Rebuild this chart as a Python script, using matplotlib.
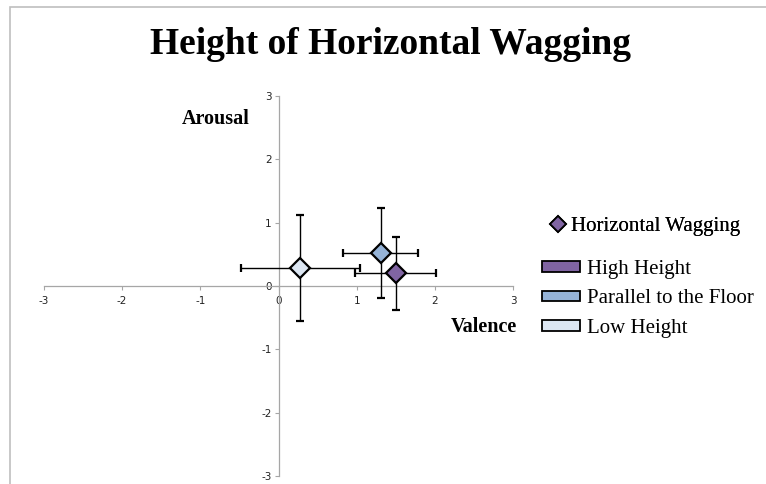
import matplotlib
matplotlib.use("Agg")
import matplotlib.pyplot as plt
from matplotlib.patches import Rectangle
from matplotlib.lines import Line2D

categories = ["High Height", "Parallel to the Floor", "Low Height"]
valence = [1.50, 1.31, 0.28]
arousal = [0.20, 0.52, 0.28]
valence_err = [0.52, 0.48, 0.76]
arousal_err = [0.58, 0.71, 0.84]
colors = ["#8064A2", "#95B3D7", "#DCE6F2"]
ticks = [-3, -2, -1, 0, 1, 2, 3]

fig = plt.figure(figsize=(7.66, 4.84), dpi=100)
fig.patches.append(Rectangle((9.5/766, -0.1), 1.2, 1.1 - 6.5/484, transform=fig.transFigure,
                             fill=False, edgecolor="#BFBFBF", linewidth=1.2))
ax = fig.add_axes([44/766, 8/484, 469/766, 380/484])
ax.set_xlim(-3, 3)
ax.set_ylim(-3, 3)

for s in ["top", "right"]:
    ax.spines[s].set_visible(False)
for s in ["left", "bottom"]:
    ax.spines[s].set_position(("data", 0))
    ax.spines[s].set_color("#A6A6A6")
    ax.spines[s].set_linewidth(0.9)

ax.set_xticks(ticks)
ax.set_yticks(ticks)
ax.set_xticklabels([str(t) for t in ticks])
ax.set_yticklabels([str(t) for t in ticks])
ax.tick_params(axis="both", direction="out", length=3, width=0.8, color="#A6A6A6",
               labelsize=7.5, labelcolor="#222222")
ax.tick_params(axis="x", pad=4)
ax.tick_params(axis="y", pad=2)
for lab in ax.get_xticklabels() + ax.get_yticklabels():
    lab.set_fontfamily("DejaVu Sans")

for i in range(len(categories)):
    ax.errorbar(valence[i], arousal[i], xerr=valence_err[i], yerr=arousal_err[i],
                fmt="D", markersize=10, markerfacecolor=colors[i], markeredgecolor="black",
                markeredgewidth=1.6, ecolor="black", elinewidth=1.0, capsize=3, capthick=1.0,
                zorder=3)

fig.text(390/766, 1 - 44/484, "Height of Horizontal Wagging", ha="center", va="center",
         fontsize=27, fontweight="bold", family="Liberation Serif")
fig.text(216/766, 1 - 119/484, "Arousal", ha="center", va="center",
         fontsize=14.5, fontweight="bold", family="Liberation Serif")
fig.text(484/766, 1 - 327/484, "Valence", ha="center", va="center",
         fontsize=14.5, fontweight="bold", family="Liberation Serif")

h1 = [Line2D([], [], marker="D", linestyle="none", markersize=8,
             markerfacecolor=colors[0], markeredgecolor="black", markeredgewidth=1.3)]
leg1 = fig.legend(h1, ["Horizontal Wagging"], loc="center left",
                  bbox_to_anchor=(548/766, 1 - 226/484), frameon=False,
                  prop={"family": "Liberation Serif", "size": 15},
                  handletextpad=0.1, handlelength=1.0, borderaxespad=0, borderpad=0)
fig.add_artist(leg1)

h2 = [Rectangle((0, 0), 1, 1, facecolor=c, edgecolor="black", linewidth=1.3) for c in colors]
fig.legend(h2, categories, loc="upper left", bbox_to_anchor=(542/766, 1 - 260/484),
           frameon=False, prop={"family": "Liberation Serif", "size": 15},
           handlelength=1.8, handleheight=0.4, handletextpad=0.35, labelspacing=0.5,
           borderaxespad=0, borderpad=0)

fig.savefig("out.png", dpi=100)
